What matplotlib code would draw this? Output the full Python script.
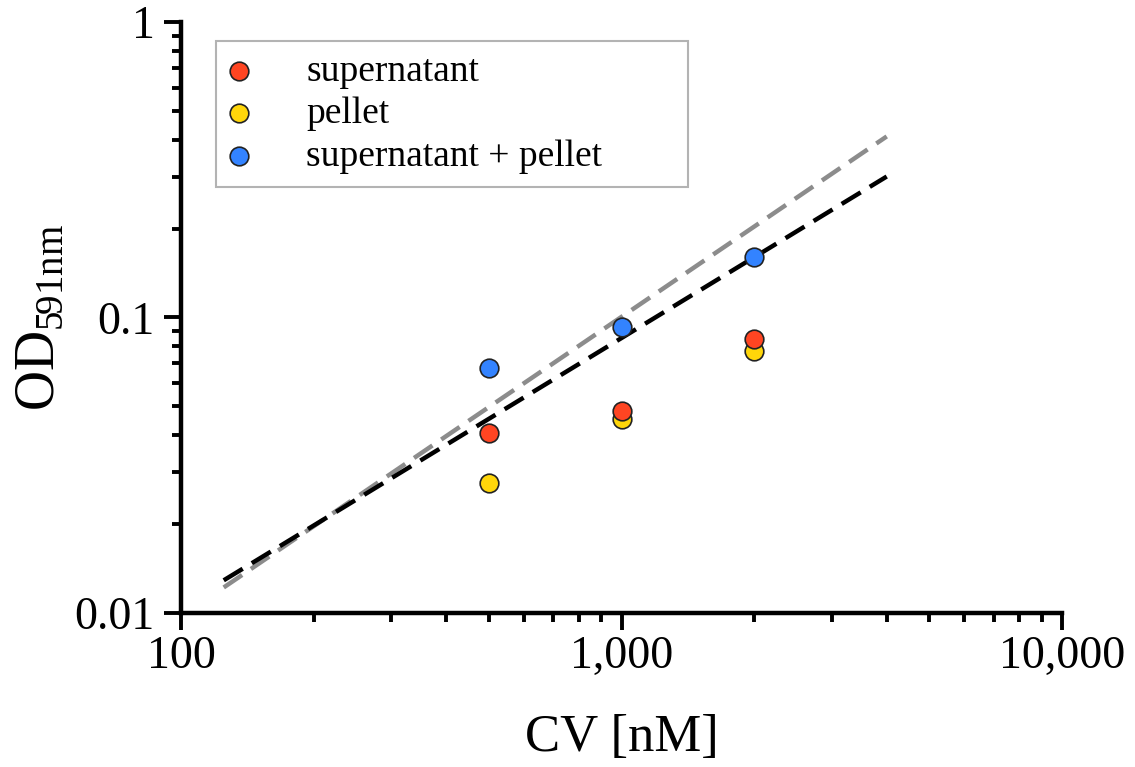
import numpy as np
import matplotlib.pyplot as plt
from matplotlib.ticker import LogLocator, NullFormatter

plt.rcParams['font.family'] = ['Liberation Serif', 'DejaVu Serif']
plt.rcParams['mathtext.fontset'] = 'custom'
plt.rcParams['mathtext.rm'] = 'Liberation Serif'

# data
cv = [500, 1000, 2000]
supernatant = [0.0406, 0.0483, 0.0846]
pellet = [0.0275, 0.0453, 0.077]
sup_pellet = [0.0675, 0.0929, 0.160]

# fit lines (end points)
fit_x = [125, 4000]
fit_black = [0.0129, 0.30]
fit_gray = [0.0122, 0.41]

xticks = [100, 1000, 10000]
xticklabels = ['100', '1,000', '10,000']
yticks = [0.01, 0.1, 1]
yticklabels = ['0.01', '0.1', '1']

fig = plt.figure(figsize=(11.35, 7.67), dpi=100)
ax = fig.add_axes([0.1595, 0.2008, 0.7762, 0.7705])

ax.plot(fit_x, fit_gray, color='#8c8c8c', lw=3.2, dashes=(5, 2.4), zorder=2)
ax.plot(fit_x, fit_black, color='black', lw=3.2, dashes=(5, 2.4), zorder=2)

ms = 180
ax.scatter(cv, pellet, s=ms, c='#ffd60a', edgecolors='#222222', linewidths=1.2, zorder=3, label='pellet')
ax.scatter(cv, supernatant, s=ms, c='#ff4522', edgecolors='#222222', linewidths=1.2, zorder=4, label='supernatant')
ax.scatter(cv, sup_pellet, s=ms, c='#3383ff', edgecolors='#222222', linewidths=1.2, zorder=5, label='supernatant + pellet')

ax.set_xscale('log')
ax.set_yscale('log')
ax.set_xlim(100, 10000)
ax.set_ylim(0.01, 1)

ax.set_xticks(xticks)
ax.set_xticklabels(xticklabels)
ax.set_yticks(yticks)
ax.set_yticklabels(yticklabels)
ax.xaxis.set_minor_locator(LogLocator(base=10, subs=np.arange(2, 10)))
ax.yaxis.set_minor_locator(LogLocator(base=10, subs=np.arange(2, 10)))
ax.xaxis.set_minor_formatter(NullFormatter())
ax.yaxis.set_minor_formatter(NullFormatter())

for s in ['top', 'right']:
    ax.spines[s].set_visible(False)
for s in ['left', 'bottom']:
    ax.spines[s].set_linewidth(3.2)

ax.tick_params(which='major', direction='out', length=12, width=2.8, labelsize=33)
ax.tick_params(axis='x', which='major', pad=4)
ax.tick_params(axis='y', which='major', pad=7)
ax.tick_params(which='minor', direction='out', length=6.5, width=2.8)

ax.set_xlabel('CV [nM]', fontsize=38, labelpad=26)
ax.set_ylabel(r'OD$_{\mathrm{591nm}}$', fontsize=40, labelpad=6)

handles, labels = ax.get_legend_handles_labels()
order = [1, 0, 2]
leg = ax.legend([handles[i] for i in order], [labels[i] for i in order],
                loc='upper left', bbox_to_anchor=(0.04, 0.72, 0.536, 0.248),
                mode='expand', fontsize=27,
                frameon=True, fancybox=False, edgecolor='#a0a0a0',
                handletextpad=1.55, handlelength=0.5, borderpad=0.35,
                labelspacing=0.22, borderaxespad=0)
leg.get_frame().set_linewidth(1.5)

fig.savefig('out.png', dpi=100)
